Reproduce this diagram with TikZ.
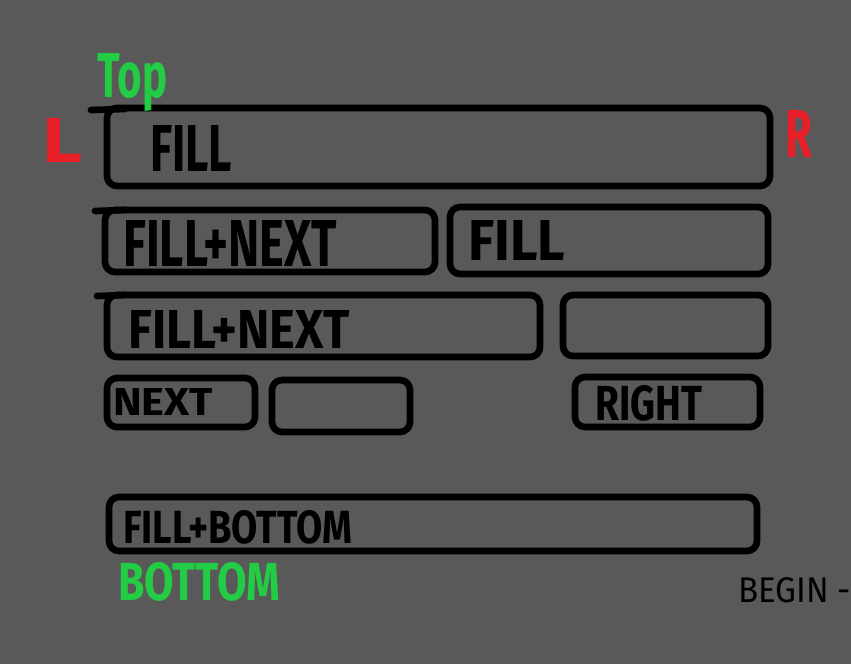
\documentclass[tikz,border=0pt]{standalone}
\usepackage{fontspec}
\setmainfont{Fira Sans}
\usetikzlibrary{fit}
\newdimen\pxu \pxu=0.3mm
\newcommand\hand[3]{\resizebox{#1\pxu}{#2\pxu}{#3}}
\definecolor{bgray}{RGB}{89,89,89}
\definecolor{lblgreen}{RGB}{34,204,68}
\definecolor{lblred}{RGB}{232,30,40}
\begin{document}
\begin{tikzpicture}[x=0.3mm,y=-0.3mm,
  wire/.style={draw=black, line width=2mm, rounded corners=3mm, inner sep=0pt, outer sep=0pt, line join=round},
  overshoot/.style={draw=black, line width=2mm, line cap=round},
  txt/.style={anchor=north west, inner sep=0pt, text=black, font=\bfseries},
  plainlbl/.style={anchor=north west, inner sep=0pt, text=black},
  gl/.style={anchor=north west, inner sep=0pt, text=lblgreen, font=\bfseries},
  rl/.style={anchor=north west, inner sep=0pt, text=lblred, font=\bfseries}]
\fill[bgray] (0,0) rectangle (851,664);
\useasboundingbox (0,0) rectangle (851,664);

% boxes
\node[wire, fit={(107,108) (770,186)}] (b1) {};
\node[wire, fit={(105,210) (435,272)}] (b2) {};
\node[wire, fit={(450,207) (768,274)}] (b3) {};
\node[wire, fit={(107,295) (540,357)}] (b4) {};
\node[wire, fit={(563,295) (768,356)}] (b5) {};
\node[wire, fit={(107,378) (255,427)}] (b6) {};
\node[wire, fit={(272,380) (410,432)}] (b7) {};
\node[wire, fit={(575,377) (760,427)}] (b8) {};
\node[wire, fit={(109,497) (757,551)}] (b9) {};

% overshooting top strokes
\coordinate (o1) at (91,110);
\coordinate (o2) at (95,211);
\coordinate (o3) at (97,296);
\draw[overshoot] (o1) -- (125,109);
\draw[overshoot] (o2) -- (125,210);
\draw[overshoot] (o3) -- (125,295);

% texts in boxes
\node[txt] (t1) at (150,125) {\hand{82}{46}{FILL}};
\node[txt] (t2) at (123,220) {\hand{214}{46}{FILL+NEXT}};
\node[txt] (t3) at (468,220) {\hand{97}{40}{FILL}};
\node[txt] (t4) at (128,310) {\hand{222}{38}{FILL+NEXT}};
\node[txt] (t5) at (113,388) {\hand{100}{27}{NEXT}};
\node[txt] (t6) at (595,385) {\hand{107}{35}{RIGHT}};
\node[txt] (t7) at (123,510) {\hand{229}{33}{FILL+BOTTOM}};

% side labels
\node[gl] (ltop) at (97,53) {\hand{70}{44}{Top}};
\node[rl] (lleft) at (42,118) {\hand{40}{44}{L}};
\node[rl] (lright) at (785,110) {\hand{27}{47}{R}};
\node[gl] (lbottom) at (118,562) {\hand{162}{38}{BOTTOM}};
\node[plainlbl] (lbegin) at (738,577) {\hand{113}{25}{BEGIN -}};
\end{tikzpicture}
\end{document}
